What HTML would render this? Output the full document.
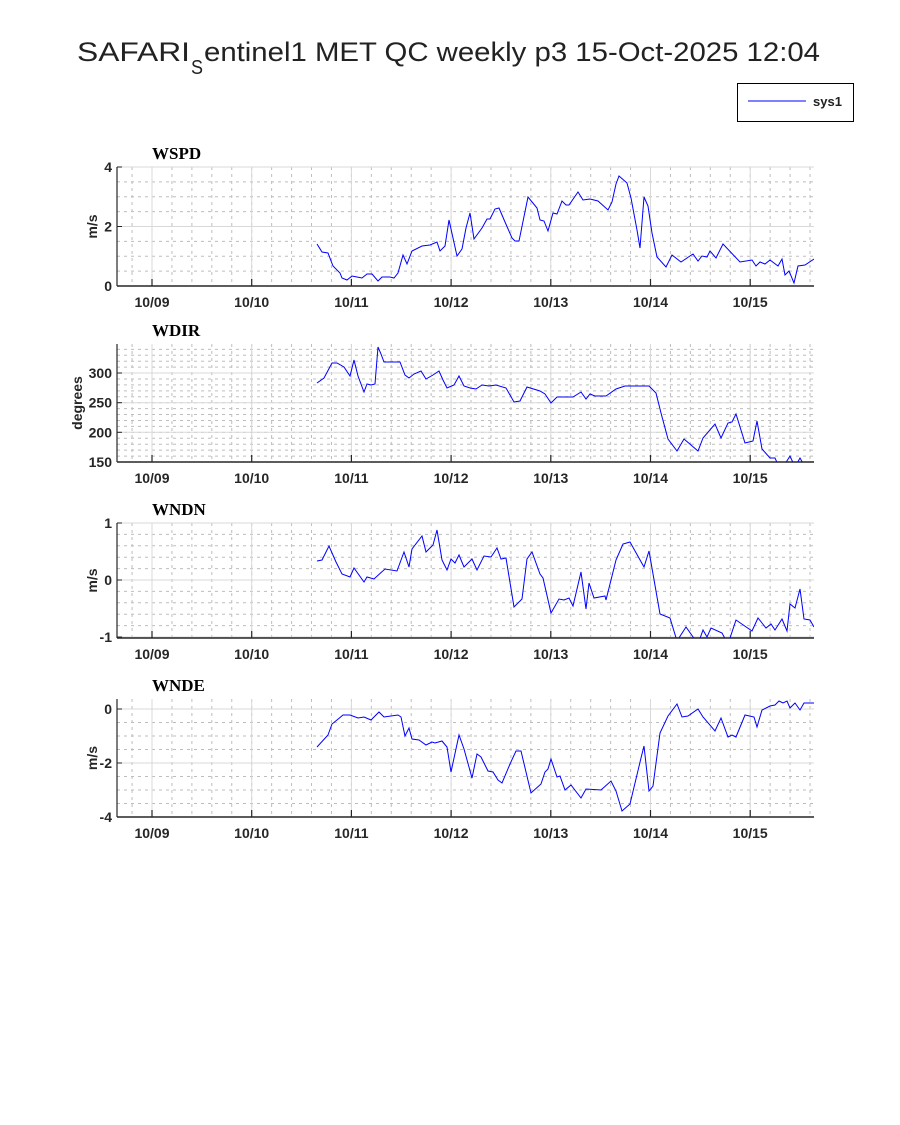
<!DOCTYPE html>
<html><head><meta charset="utf-8"><style>
html,body{margin:0;padding:0;background:#fff}
svg{display:block}
text{font-family:"Liberation Sans",Arial,sans-serif;fill:#222}
.t{font-family:"Liberation Serif",serif;font-weight:bold;font-size:17px;fill:#000}
.tk{font-size:14px;font-weight:bold;fill:#262626}
</style></head><body>
<svg id="s" width="900" height="1125" viewBox="0 0 900 1125" xmlns="http://www.w3.org/2000/svg">
<text x="77" y="61" font-size="27" textLength="113" lengthAdjust="spacingAndGlyphs" fill="#000">SAFARI</text>
<text x="191" y="74" font-size="20" textLength="12" lengthAdjust="spacingAndGlyphs" fill="#000">S</text>
<text x="204" y="61" font-size="27" textLength="616" lengthAdjust="spacingAndGlyphs" fill="#000">entinel1 MET QC weekly p3 15-Oct-2025 12:04</text>
<rect x="737.5" y="83.5" width="116" height="38" fill="#fff" stroke="#000" stroke-width="1"/>
<line x1="748" y1="101" x2="806" y2="101" stroke="#0000ff" stroke-width="1"/>
<text x="813" y="106" font-size="13" font-weight="bold" fill="#000">sys1</text>
<g id="g"></g>
</svg>
<script>
var NS="http://www.w3.org/2000/svg",G=document.getElementById("g");
function el(n,a,t){var e=document.createElementNS(NS,n);for(var k in a)e.setAttribute(k,a[k]);if(t!==undefined)e.textContent=t;G.appendChild(e);return e;}
var L=117,R=814,days=[152,251.7,351.4,451.1,550.8,650.5,750.2],dl=["10/09","10/10","10/11","10/12","10/13","10/14","10/15"];
var P=[
{top:167,bot:286,title:"WSPD",yl:"m/s",ylx:97,major:[[0,286],[2,226.5],[4,167]],minorStep:14.875,ticksShow:[0,2,4],
pts:"317,244 322,252 328,253 333,266 340,273 342,278 347,280 352,276 357,277 362,278 367,274 372,274 378,281 382,277 390,277 394,278 398,273 403,255 407,264 412,251 422,246 430,245 437,242 440,251 445,246 449,220 457,256 462,249 466,228 470,213 474,239 482,228 487,219 490,219 495,209 499,208 505,222 512,238 515,241 519,241 528,197 537,208 540,220 544,221 548,231 553,213 557,214 562,201 566,205 569,205 578,192 583,200 590,199 598,201 608,210 612,202 616,184 619,176 627,183 631,198 637,230 640,248 644,197 648,206 652,233 657,257 666,267 672,255 681,262 693,254 698,261 702,256 707,257 710,251 716,258 723,244 740,262 752,260 756,266 760,262 765,264 770,260 778,266 782,259 785,275 789,271 794,283 798,266 805,265 814,259"},
{top:344,bot:462,title:"WDIR",yl:"degrees",ylx:82,major:[[150,462],[200,432.3],[250,402.7],[300,373]],minorStep:5.93,
pts:"317,383 324,378 332,363 337,363 344,367 350,376 354,360 358,376 364,392 367,384 371,385 375,384 378,347 381,354 384,362 400,362 405,375 409,378 414,374 421,371 426,379 433,375 439,371 443,380 447,388 454,385 459,376 464,386 470,388 476,389 482,385 489,386 496,385 506,388 514,402 520,401 527,387 540,391 545,394 551,403 557,397 573,397 581,392 586,399 590,394 595,396 606,396 616,389 625,386 649,386 656,393 661,413 668,439 677,451 684,439 698,451 703,438 715,424 721,438 728,423 732,422 736,414 745,443 753,441 757,421 762,449 770,458 775,458 779,467 785,464 790,456 795,467 800,458 804,465 810,462 814,462"},
{top:523,bot:638,title:"WNDN",yl:"m/s",ylx:97,major:[[1,523],[0,580],[-1,637]],minorStep:11.4,
pts:"317,561 322,560 329,546 336,562 342,574 350,577 354,568 364,582 367,577 374,579 385,569 397,571 404,552 409,567 412,549 422,536 426,552 433,545 437,530 442,560 447,570 451,559 455,563 459,555 464,567 472,559 477,570 484,556 491,557 497,548 501,559 506,558 514,607 522,599 527,559 532,552 540,574 543,578 551,613 559,599 564,600 569,598 573,606 581,572 586,609 589,583 594,598 605,596 606,600 616,560 623,544 630,542 644,567 649,551 660,614 670,618 677,641 686,627 698,644 703,630 707,637 711,628 722,633 728,644 736,620 752,631 758,618 766,628 771,624 775,630 782,619 787,631 790,604 795,608 800,589 804,619 810,620 814,627"},
{top:699,bot:817,title:"WNDE",yl:"m/s",ylx:97,major:[[0,709],[-2,763],[-4,817]],minorStep:13.5,
pts:"317,747 328,735 332,724 337,720 343,715 350,715 358,718 364,717 371,720 379,712 384,717 398,715 401,717 405,736 409,728 412,739 419,740 426,745 432,742 435,743 442,741 447,747 451,772 459,735 464,749 472,778 477,754 481,757 488,771 493,772 498,780 502,783 510,764 516,751 521,751 531,793 541,784 545,772 548,769 551,759 557,777 560,776 565,790 571,785 581,798 586,789 601,790 611,781 616,791 622,811 630,804 641,758 644,746 649,791 653,786 660,733 668,716 677,704 682,717 688,716 698,709 703,717 715,731 721,718 728,737 732,735 736,737 745,715 754,717 757,727 762,710 770,706 775,705 779,701 783,703 787,701 790,708 795,703 800,710 804,703 814,703"}
];
P.forEach(function(p,i){
 var cid="c"+i;
 var cp=el("clipPath",{id:cid});cp.appendChild(document.createElementNS(NS,"rect"));
 var r=cp.firstChild;r.setAttribute("x",L);r.setAttribute("y",p.top);r.setAttribute("width",R-L);r.setAttribute("height",p.bot-p.top);
 // minor vertical
 for(var x=days[0]-2*19.94;x<R;x+=19.94){if(x<L+0.5)continue;
  el("line",{x1:x,y1:p.top,x2:x,y2:p.bot,stroke:"#bdbdbd","stroke-width":1,"stroke-dasharray":"3,4"});}
 // minor horizontal
 var y0=p.major[0][1];
 for(var k=-40;k<40;k++){var y=y0+k*p.minorStep;if(y<=p.top||y>=p.bot)continue;
  el("line",{x1:L,y1:y,x2:R,y2:y,stroke:"#bdbdbd","stroke-width":1,"stroke-dasharray":"3,4"});}
 days.forEach(function(x){el("line",{x1:x,y1:p.top,x2:x,y2:p.bot,stroke:"#d9d9d9","stroke-width":1});});
 p.major.forEach(function(m){el("line",{x1:L,y1:m[1],x2:R,y2:m[1],stroke:"#d9d9d9","stroke-width":1});
  el("line",{x1:L,y1:m[1],x2:L+5,y2:m[1],stroke:"#262626","stroke-width":1});
  el("text",{x:L-5,y:m[1]+5,"text-anchor":"end","class":"tk"},String(m[0]));});
 // axes
 el("line",{x1:L,y1:p.top,x2:L,y2:p.bot,stroke:"#262626","stroke-width":1.2});
 el("line",{x1:L,y1:p.bot,x2:R,y2:p.bot,stroke:"#262626","stroke-width":1.5});
 days.forEach(function(x,j){el("line",{x1:x,y1:p.bot,x2:x,y2:p.bot-7,stroke:"#262626","stroke-width":1.2});
  el("text",{x:x,y:p.bot+21,"text-anchor":"middle","class":"tk"},dl[j]);});
 el("polyline",{points:p.pts,fill:"none",stroke:"#0000ff","stroke-width":1,"clip-path":"url(#"+cid+")"});
 el("text",{x:152,y:p.top-8,"class":"t"},p.title);
 var cy=(p.top+p.bot)/2;
 el("text",{x:p.ylx,y:cy,"text-anchor":"middle","class":"tk",transform:"rotate(-90 "+p.ylx+" "+cy+")","font-size":"16"},p.yl);
});
</script>
</body></html>
